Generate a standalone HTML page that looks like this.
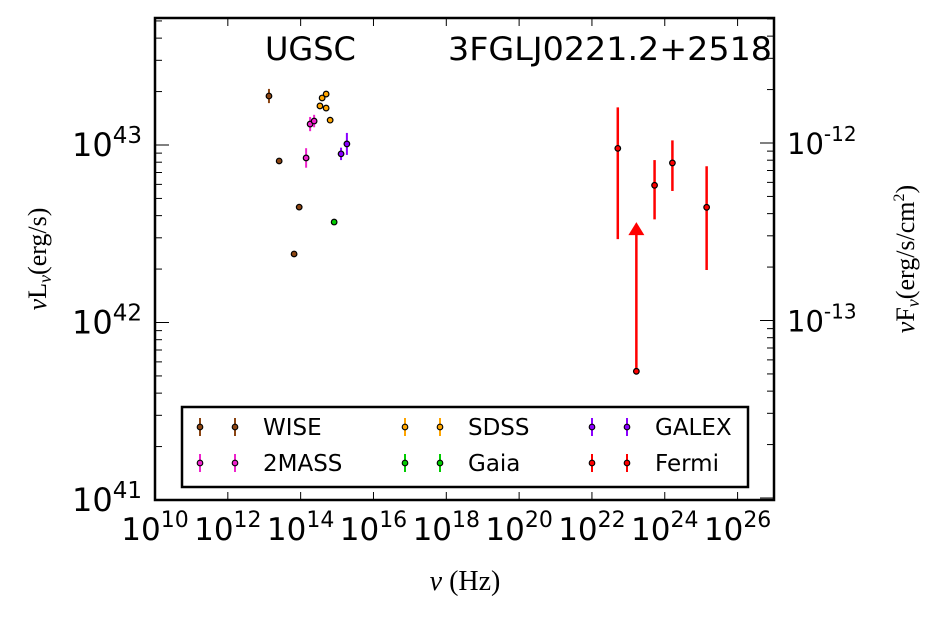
<!DOCTYPE html>
<html><head><meta charset="utf-8"><style>
body{margin:0;background:#fff;}
svg text{font-family:"DejaVu Sans","Liberation Sans",sans-serif;}
svg text.serif{font-family:"Liberation Serif","DejaVu Serif",serif;}
</style></head><body>
<svg id="chart" width="940" height="620" xmlns="http://www.w3.org/2000/svg"></svg>
<script>
// Data (log10 nu [Hz], log10 nuL_nu [erg/s], errors in dex)
const wiseX=[13.13,13.41,13.96,13.82];
const wiseY=[43.276,42.91,42.65,42.386];
const wiseErr=[0.04,0.0,0.0,0.0];
const tmassX=[14.26,14.37,14.15];
const tmassY=[43.118,43.135,42.927];
const tmassErr=[0.04,0.035,0.055];
const sdssX=[14.59,14.70,14.53,14.70,14.81];
const sdssY=[43.265,43.287,43.22,43.208,43.14];
const sdssErr=[0,0,0,0,0];
const gaiaX=[14.92];
const gaiaY=[42.566];
const gaiaErr=[0];
const galexX=[15.11,15.27];
const galexY=[42.95,43.006];
const galexErr=[0.035,0.062];
const fermiX=[22.71,23.72,24.21,25.15];
const fermiY=[42.981,42.773,42.899,42.649];
const fermiHi=[43.212,42.915,43.026,42.880];
const fermiLo=[42.470,42.581,42.741,42.296];
const ulX=[23.22];
const ulY=[41.725];
const ulTop=[42.56];
const xTicks=[10,12,14,16,18,20,22,24,26];
const yTicks=[41,42,43];
const y2Ticks=[-13,-12];

const X0=155,X1=774,Y0=500,Y1=18;
const xmin=10,xmax=27,ymin=41,ymax=43+(145-18)/177.5;
const sx=v=>X0+(v-xmin)/(xmax-xmin)*(X1-X0);
const sy=v=>Y0-(v-ymin)/(ymax-ymin)*(Y0-Y1);
const off2=55+(2/177.5);
const sy2=v=>sy(v+off2);
const svg=document.getElementById('chart');
const NS='http://www.w3.org/2000/svg';
function mk(tag,attrs,parent){const e=document.createElementNS(NS,tag);for(const k in attrs)e.setAttribute(k,attrs[k]);(parent||svg).appendChild(e);return e;}

const tg=mk('g',{});


xTicks.forEach(t=>{const x=sx(t);
 mk('line',{x1:x,x2:x,y1:Y0,y2:Y0-8,stroke:'#000','stroke-width':1},tg);
 mk('line',{x1:x,x2:x,y1:Y1,y2:Y1+8,stroke:'#000','stroke-width':1},tg);
 const tx=mk('text',{x:x,y:540,'text-anchor':'middle','font-size':31});
 
 
 tx.innerHTML='10<tspan dy="-13" font-size="22">'+t+'</tspan>';
});
for(let d=40;d<=43;d++){for(let m=1;m<=9;m++){const v=d+Math.log10(m);if(v<ymin||v>ymax)continue;const y=sy(v);const L=m==1?14:7;
 mk('line',{x1:X0,x2:X0+L,y1:y,y2:y,stroke:'#000','stroke-width':1},tg);}}
for(let d=-15;d<=-11;d++){for(let m=1;m<=9;m++){const v=d+Math.log10(m);const y=sy2(v);if(y<Y1||y>Y0)continue;const L=m==1?14:7;
 mk('line',{x1:X1,x2:X1-L,y1:y,y2:y,stroke:'#000','stroke-width':1},tg);}}
yTicks.forEach(t=>{const tx=mk('text',{x:142,y:sy(t)+11,'text-anchor':'end','font-size':32});
 
 
 tx.innerHTML='10<tspan dy="-13" font-size="23">'+t+'</tspan>';});
y2Ticks.forEach(t=>{const tx=mk('text',{x:787,y:sy2(t)+11,'text-anchor':'start','font-size':29});
 
 
 tx.innerHTML='10<tspan dy="-13" font-size="20">'+t+'</tspan>';});

function series(name,xs,ys,errs,color){
 const g=mk('g',{});
 
 
 xs.forEach((xv,i)=>{const x=sx(xv),y=sy(ys[i]);
  if(errs[i]>0)mk('line',{x1:x,x2:x,y1:sy(ys[i]+errs[i]),y2:sy(ys[i]-errs[i]),stroke:color,'stroke-width':2},g);
  const c=mk('circle',{cx:x,cy:y,r:2.8,fill:color,stroke:'#000','stroke-width':1.2},g);
  
  
 });
}
series('wise',wiseX,wiseY,wiseErr,'#8b4513');
series('2mass',tmassX,tmassY,tmassErr,'#ee22cc');
series('sdss',sdssX,sdssY,sdssErr,'#ffa500');
series('gaia',gaiaX,gaiaY,gaiaErr,'#00cc00');
series('galex',galexX,galexY,galexErr,'#8a00ff');
const fg=mk('g',{});


ulX.forEach((xv,i)=>{const x=sx(xv),y=sy(ulY[i]),yt=sy(ulTop[i]);
 mk('line',{x1:x,x2:x,y1:y,y2:yt+10,stroke:'#f00','stroke-width':2.5},fg);
 const a=mk('polygon',{points:`${x-8},${yt+12} ${x+8},${yt+12} ${x},${yt-1}`,fill:'#f00'},fg);
 
 
 mk('circle',{cx:x,cy:y,r:2.8,fill:'#f00',stroke:'#000','stroke-width':1.2},fg);});
fermiX.forEach((xv,i)=>{const x=sx(xv);
 mk('line',{x1:x,x2:x,y1:sy(fermiHi[i]),y2:sy(fermiLo[i]),stroke:'#f00','stroke-width':2.5},fg);
 const c=mk('circle',{cx:x,cy:sy(fermiY[i]),r:2.8,fill:'#f00',stroke:'#000','stroke-width':1.2},fg);
 
 });

const fr=mk('rect',{x:X0,y:Y1,width:X1-X0,height:Y0-Y1,fill:'none',stroke:'#000','stroke-width':2.5});



const lg=mk('g',{});


mk('rect',{x:182,y:407,width:566,height:80,fill:'#fff',stroke:'#000','stroke-width':2.5},lg);
const legNames=['WISE','2MASS','SDSS','Gaia','GALEX','Fermi'];
const legColors=['#8b4513','#ee22cc','#ffa500','#00cc00','#8a00ff','#f00'];
const colX=[200,405,592];
legNames.forEach((n,i)=>{const c=Math.floor(i/2),r=i%2;const y=r?463:427;const g=mk('g',{},lg);
 
 
 [colX[c],colX[c]+35].forEach(x=>{mk('line',{x1:x,x2:x,y1:y-9,y2:y+9,stroke:legColors[i],'stroke-width':2},g);
  mk('circle',{cx:x,cy:y,r:2.8,fill:legColors[i],stroke:'#000','stroke-width':1.1},g);});
 const t=mk('text',{x:colX[c]+63,y:y+8,'font-size':23},g);t.textContent=n;});
</script>
<svg width="940" height="620" style="position:absolute;left:0;top:0" xmlns="http://www.w3.org/2000/svg">
<text x="265" y="60" font-size="32">UGSC</text>
<text x="772" y="60" font-size="32" text-anchor="end" textLength="324" lengthAdjust="spacingAndGlyphs">3FGLJ0221.2+2518</text>
<text class="serif" x="465" y="590" font-size="28" text-anchor="middle"><tspan font-style="italic">ν</tspan> (Hz)</text>
<text class="serif" transform="translate(46,259) rotate(-90)" font-size="26" text-anchor="middle"><tspan font-style="italic">ν</tspan>L<tspan font-style="italic" font-size="18" dy="5">ν</tspan><tspan dy="-5">(erg/s)</tspan></text>
<text class="serif" transform="translate(914,259) rotate(-90)" font-size="26" text-anchor="middle"><tspan font-style="italic">ν</tspan>F<tspan font-style="italic" font-size="18" dy="5">ν</tspan><tspan dy="-5">(erg/s/cm</tspan><tspan font-size="16" dy="-10">2</tspan><tspan dy="10">)</tspan></text>
</svg>
</body></html>
